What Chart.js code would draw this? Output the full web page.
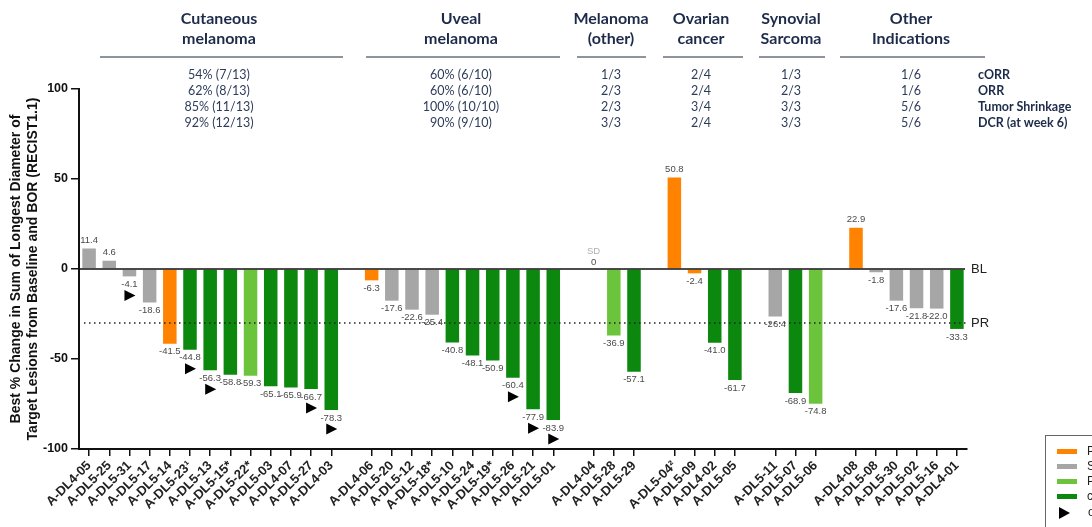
<!DOCTYPE html>
<html>
<head>
<meta charset="utf-8">
<script src="https://cdn.jsdelivr.net/npm/chart.js@4.4.0/dist/chart.umd.min.js"></script>
<style>
  html, body { margin: 0; padding: 0; background: #fff; overflow: hidden; }
  #wrap { position: relative; width: 1092px; height: 527px; overflow: hidden; }
  #chart { position: absolute; left: 0; top: 0; }
  .grp { position: absolute; top: 8px; transform: translateX(-50%); text-align: center; white-space: nowrap;
         font-family: Lato, "Open Sans", sans-serif; font-weight: 700; font-size: 16px; line-height: 20px; color: #1d2b4a; }
  .rule { position: absolute; top: 56px; height: 2px; background: #8d949c; }
  .stat { position: absolute; top: 67px; transform: translateX(-50%); text-align: center; white-space: nowrap;
          font-family: Lato, "Open Sans", sans-serif; font-size: 12.5px; line-height: 16px; color: #2e3c5c; }
  .rowlab { position: absolute; top: 67px; left: 978px; white-space: nowrap;
            font-family: Lato, "Open Sans", sans-serif; font-weight: 700; font-size: 12.5px; line-height: 16px; color: #1d2b4a; }
  #legend { position: absolute; left: 1045px; top: 435px; width: 120px; height: 100px; border: 1px solid #666;
            font-family: "Liberation Sans", sans-serif; font-size: 12px; color: #222; }
  #legend .item { position: absolute; left: 11px; height: 15px; line-height: 15px; white-space: nowrap; }
  #legend .sw { display: inline-block; width: 20px; height: 5px; vertical-align: middle; margin-right: 10px; }
  #legend .tri { display: inline-block; width: 0; height: 0; border-top: 6px solid transparent; border-bottom: 6px solid transparent;
                 border-left: 11px solid #000; vertical-align: middle; margin-right: 18px; margin-left: 2px; }
</style>
</head>
<body>
<div id="wrap">
  <canvas id="chart" width="1092" height="527"></canvas>
  <div id="header"></div>
  <div id="legend"></div>
</div>
<script>
// Patients per slot ('' = gap between indication groups)
const patients = [
  'A-DL4-05', 'A-DL5-25', 'A-DL5-31', 'A-DL5-17', 'A-DL5-14', 'A-DL5-23¹', 'A-DL5-13', 'A-DL5-15*', 'A-DL5-22*', 'A-DL5-03', 'A-DL4-07', 'A-DL5-27', 'A-DL4-03', '',
  'A-DL4-06', 'A-DL5-20', 'A-DL5-12', 'A-DL5-18*', 'A-DL5-10', 'A-DL5-24', 'A-DL5-19*', 'A-DL5-26', 'A-DL5-21', 'A-DL5-01', '',
  'A-DL4-04', 'A-DL5-28', 'A-DL5-29', '',
  'A-DL5-04²', 'A-DL5-09', 'A-DL4-02', 'A-DL5-05', '',
  'A-DL5-11', 'A-DL5-07', 'A-DL5-06', '',
  'A-DL4-08', 'A-DL5-08', 'A-DL5-30', 'A-DL5-02', 'A-DL5-16', 'A-DL4-01'
];

// Best % change in sum of longest diameter
const changes = [
  11.4, 4.6, -4.1, -18.6, -41.5, -44.8, -56.3, -58.8, -59.3, -65.1, -65.9, -66.7, -78.3, null,
  -6.3, -17.6, -22.6, -25.4, -40.8, -48.1, -50.9, -60.4, -77.9, -83.9, null,
  0, -36.9, -57.1, null,
  50.8, -2.4, -41.0, -61.7, null,
  -26.4, -68.9, -74.8, null,
  22.9, -1.8, -17.6, -21.8, -22.0, -33.3
];

// Best overall response
const response = [
  'SD', 'SD', 'SD', 'SD', 'PD', 'cPR', 'cPR', 'cPR', 'PR', 'cPR', 'cPR', 'cPR', 'cPR', '',
  'PD', 'SD', 'SD', 'SD', 'cPR', 'cPR', 'cPR', 'cPR', 'cPR', 'cPR', '',
  'SD', 'PR', 'cPR', '',
  'PD', 'PD', 'cPR', 'cPR', '',
  'SD', 'cPR', 'PR', '',
  'PD', 'SD', 'SD', 'SD', 'SD', 'cPR'
];

// Patients still on treatment
const ongoingPatients = ['A-DL5-31', 'A-DL5-23¹', 'A-DL5-13', 'A-DL5-27', 'A-DL4-03', 'A-DL5-26', 'A-DL5-21', 'A-DL5-01'];

// Header table
const groupNames = [['Cutaneous', 'melanoma'], ['Uveal', 'melanoma'], ['Melanoma', '(other)'], ['Ovarian', 'cancer'], ['Synovial', 'Sarcoma'], ['Other', 'Indications']];
const corr = ['54% (7/13)', '60% (6/10)', '1/3', '2/4', '1/3', '1/6'];
const orr = ['62% (8/13)', '60% (6/10)', '2/3', '2/4', '2/3', '1/6'];
const shrinkage = ['85% (11/13)', '100% (10/10)', '2/3', '3/4', '3/3', '5/6'];
const dcr = ['92% (12/13)', '90% (9/10)', '3/3', '2/4', '3/3', '5/6'];
const rowLabels = ['cORR', 'ORR', 'Tumor Shrinkage', 'DCR (at week 6)'];

const yTicks = [-100, -50, 0, 50, 100];
const prLevel = -30;
const legendLabels = ['PD', 'SD', 'PR', 'cPR', 'ongoing treatment'];

// Colours per response
const colors = { PD: '#ff8200', SD: '#a6a6a6', PR: '#6cc43c', cPR: '#0c880f' };

// header layout: centre x, rule start, rule end
const headerLayout = [[219, 100, 343], [461, 366, 560], [611, 577, 646], [701, 663, 743], [791, 759, 825], [911, 840, 985]];

const header = document.getElementById('header');
groupNames.forEach((name, i) => {
  const [cx, x0, x1] = headerLayout[i];
  header.insertAdjacentHTML('beforeend',
    `<div class="grp" style="left:${cx}px">${name[0]}<br>${name[1]}</div>` +
    `<div class="rule" style="left:${x0}px;width:${x1 - x0}px"></div>` +
    `<div class="stat" style="left:${cx}px">${corr[i]}<br>${orr[i]}<br>${shrinkage[i]}<br>${dcr[i]}</div>`);
});
header.insertAdjacentHTML('beforeend', `<div class="rowlab">${rowLabels.join('<br>')}</div>`);

const legend = document.getElementById('legend');
['PD', 'SD', 'PR', 'cPR'].forEach((k, i) => {
  legend.insertAdjacentHTML('beforeend',
    `<div class="item" style="top:${8 + i * 15}px"><span class="sw" style="background:${colors[k]}"></span>${legendLabels[i]}</div>`);
});
legend.insertAdjacentHTML('beforeend',
  `<div class="item" style="top:${9 + 4 * 15}px"><span class="tri"></span>${legendLabels[4]}</div>`);

// Baseline, PR line, value labels and ongoing markers
const annotate = {
  id: 'annotate',
  afterDatasetsDraw(chart) {
    const { ctx, chartArea, scales: { x, y } } = chart;
    const y0 = y.getPixelForValue(0);
    const yPr = y.getPixelForValue(prLevel);
    ctx.save();

    ctx.strokeStyle = '#111';
    ctx.lineWidth = 1.5;
    ctx.beginPath();
    ctx.moveTo(chartArea.left, y0);
    ctx.lineTo(chartArea.right - 2, y0);
    ctx.stroke();

    ctx.setLineDash([1.5, 3.5]);
    ctx.lineWidth = 1.6;
    ctx.strokeStyle = '#222';
    ctx.beginPath();
    ctx.moveTo(chartArea.left + 5, yPr);
    ctx.lineTo(chartArea.right, yPr);
    ctx.stroke();
    ctx.setLineDash([]);

    ctx.fillStyle = '#222';
    ctx.font = '13px "Liberation Sans"';
    ctx.textAlign = 'left';
    ctx.textBaseline = 'middle';
    ctx.fillText('BL', chartArea.right + 4, y0);
    ctx.fillText('PR', chartArea.right + 4, yPr);

    ctx.font = '9.5px "Liberation Sans"';
    ctx.textAlign = 'center';
    chart.getDatasetMeta(0).data.forEach((bar, i) => {
      const v = changes[i];
      if (v === null) return;
      const end = y.getPixelForValue(v);
      ctx.fillStyle = '#4a4a4a';
      if (v === 0) {
        ctx.fillText('0', bar.x, end - 7);
        ctx.fillStyle = '#b0b0b0';
        ctx.fillText('SD', bar.x, end - 18);
        return;
      }
      if (v > 0) {
        ctx.fillText(v.toFixed(1), bar.x, end - 8);
      } else {
        ctx.fillText(v.toFixed(1), bar.x, end + 8);
      }
      if (ongoingPatients.includes(patients[i])) {
        const ty = end + 19;
        ctx.fillStyle = '#000';
        ctx.beginPath();
        ctx.moveTo(bar.x - 5, ty - 5.5);
        ctx.lineTo(bar.x + 6, ty);
        ctx.lineTo(bar.x - 5, ty + 5.5);
        ctx.closePath();
        ctx.fill();
      }
    });
    ctx.restore();
  }
};

new Chart(document.getElementById('chart'), {
  type: 'bar',
  data: {
    labels: patients,
    datasets: [{
      data: changes,
      backgroundColor: response.map(r => colors[r] || 'transparent'),
      borderWidth: 0,
      categoryPercentage: 1,
      barPercentage: 0.67
    }]
  },
  options: {
    responsive: false,
    animation: false,
    events: [],
    layout: { padding: { left: 0, top: 89, right: 125, bottom: 0 } },
    plugins: { legend: { display: false }, tooltip: { enabled: false } },
    scales: {
      x: {
        offset: true,
        ticks: {
          autoSkip: false, maxRotation: 45, minRotation: 45, padding: 2,
          color: '#222', font: { family: 'Liberation Sans', weight: 'bold', size: 13 }
        },
        grid: {
          offset: false, drawOnChartArea: false, tickLength: 7, lineWidth: 1.5,
          color: c => patients[c.index] ? '#111' : 'rgba(0,0,0,0)'
        },
        border: { color: '#111', width: 2 },
        afterFit(s) { s.height = 78; }
      },
      y: {
        min: -100, max: 100,
        afterBuildTicks(s) { s.ticks = yTicks.map(v => ({ value: v })); },
        ticks: { padding: 3, color: '#111', font: { family: 'Liberation Sans', weight: 'bold', size: 12.5 } },
        grid: { drawOnChartArea: false, tickLength: 8, lineWidth: 1.5, color: '#111' },
        border: { color: '#111', width: 2 },
        title: {
          display: true,
          text: ['Best % Change in Sum of Longest Diameter of', 'Target Lesions from Baseline and BOR (RECIST1.1)'],
          color: '#111',
          font: { family: 'Liberation Sans', weight: 'bold', size: 14, lineHeight: 1.18 },
          padding: { top: 8, bottom: 0 }
        },
        afterFit(s) { s.width = 79; }
      }
    }
  },
  plugins: [annotate]
});
</script>
</body>
</html>
